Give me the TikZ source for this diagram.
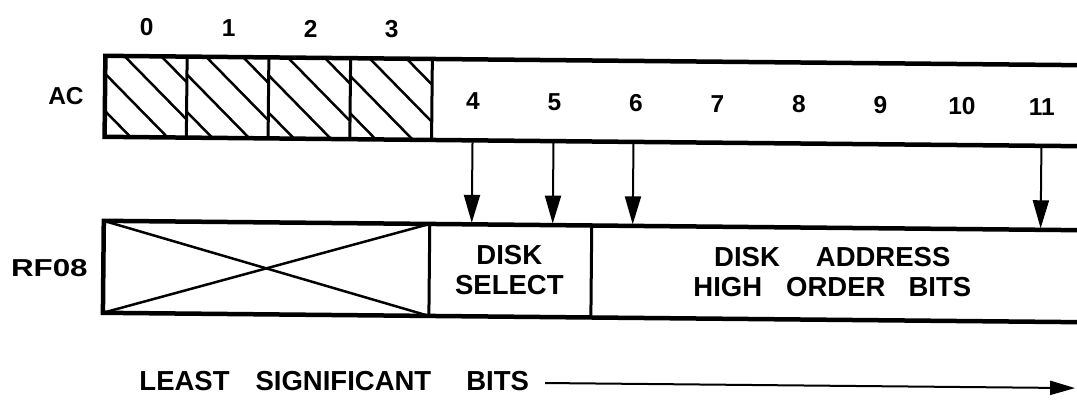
\documentclass[tikz,border=0pt]{standalone}
\usepackage{fontspec}
\setmainfont{Liberation Sans}
\usetikzlibrary{arrows.meta}
\begin{document}
\begin{tikzpicture}[x=1pt,y=-1pt,
  boxline/.style={line width=4.5pt},
  divline/.style={line width=3pt},
  hatchline/.style={line width=2.5pt},
  crossline/.style={line width=2.5pt},
  bitarrow/.style={line width=2pt,-{Triangle[length=28pt,width=16pt]}},
  lsbarrow/.style={line width=2pt,-{Triangle[length=25pt,width=14pt]}},
  dig/.style={font=\fontsize{24.5}{30}\selectfont\bfseries,inner sep=0pt},
  lab/.style={font=\fontsize{27.5}{30}\selectfont\bfseries,inner sep=0pt,align=center},
]
\useasboundingbox (0,0) rectangle (1077,401);
\clip (0,0) rectangle (1077,401);
\begin{scope}[rotate around={-0.55:(540,200)}]
  % hatching of AC bits 0-3
  \foreach \i in {0,...,3} {
    \begin{scope}
      \clip (104+81.75*\i,60) rectangle (104+81.75*\i+81.75,141);
      \foreach \c in {-55,-18,19,56}
        \draw[hatchline] (104+81.75*\i+\c-100,-40) -- (104+81.75*\i+\c+200,260);
    \end{scope}
  }
  % AC register
  \draw[boxline] (1095,60) -- (104,60) -- (104,141) -- (1095,141);
  \foreach \x in {185.75,267.5,349.25,431}
    \draw[divline] (\x,60) -- (\x,141);
  % RF08 register
  \draw[boxline] (1095,225) -- (104,225) -- (104,317) -- (1095,317);
  \draw[divline] (430,225) -- (430,317);
  \draw[divline] (592,225) -- (592,317);
  \draw[crossline] (104,225) -- (430,317);
  \draw[crossline] (104,317) -- (430,225);
  % labels
  \node[dig] (ac) at (65,101) {AC};
  \node[dig,xscale=1.28] (rf) at (50,273) {RF08};
  \node[dig] (d0) at (145,31) {0};
  \node[dig] (d1) at (227,31) {1};
  \node[dig] (d2) at (309,31) {2};
  \node[dig] (d3) at (390,31) {3};
  \node[dig] (d4) at (472,102) {4};
  \node[dig] (d5) at (553.5,102) {5};
  \node[dig] (d6) at (635,102) {6};
  \node[dig] (d7) at (716.5,102) {7};
  \node[dig] (d8) at (798,102) {8};
  \node[dig] (d9) at (879.5,102) {9};
  \node[dig] (d10) at (961,102) {10};
  \node[dig] (d11) at (1041,102) {11};
  \node[lab] (dsel) at (510,270) {DISK\\SELECT};
  \node[lab] (dadr) at (833,269.5) {DISK\hspace{36pt}ADDRESS\\HIGH\hspace{24pt}ORDER\hspace{23pt}BITS};
  \node[lab,anchor=west] (lsb) at (141,385) {LEAST\hspace{26pt}SIGNIFICANT\hspace{35pt}BITS};
  % arrows from AC bits to RF08
  \foreach \n/\x in {4/472,5/553,6/633,11/1041} {
    \coordinate (acb\n) at (\x,143);
    \coordinate (rft\n) at (\x,223.5);
    \draw[bitarrow] (acb\n) -- (rft\n);
  }
  \coordinate (lsbs) at (547,383);
  \coordinate (lsbe) at (1077,383);
  \draw[lsbarrow] (lsbs) -- (lsbe);
\end{scope}
\end{tikzpicture}
\end{document}
